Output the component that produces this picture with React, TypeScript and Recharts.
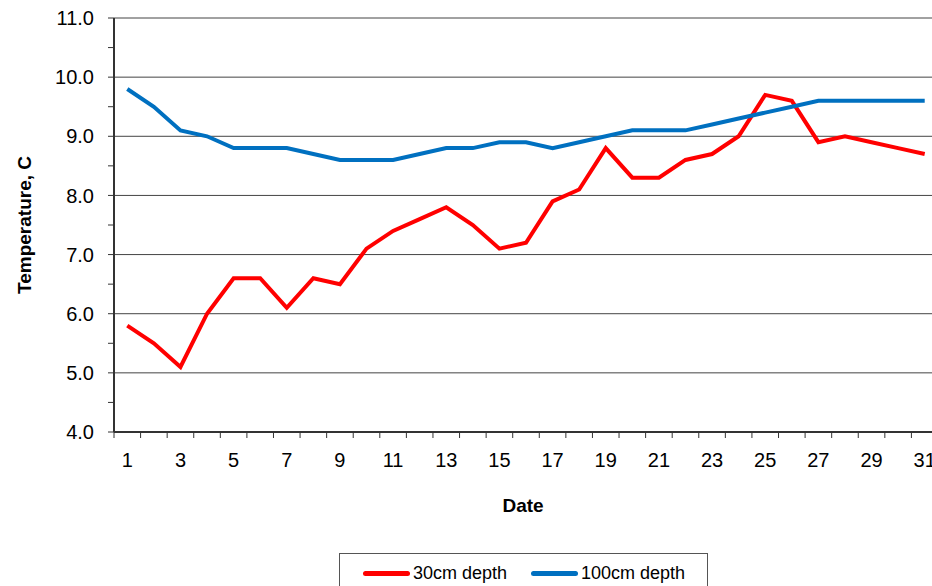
import React from 'react';
import { LineChart, Line, XAxis, YAxis, CartesianGrid, Legend } from 'recharts';

const days = [
  1, 2, 3, 4, 5, 6, 7, 8, 9, 10, 11, 12, 13, 14, 15, 16,
  17, 18, 19, 20, 21, 22, 23, 24, 25, 26, 27, 28, 29, 30, 31,
];
const depth30 = [
  5.8, 5.5, 5.1, 6.0, 6.6, 6.6, 6.1, 6.6, 6.5, 7.1, 7.4, 7.6, 7.8, 7.5, 7.1, 7.2,
  7.9, 8.1, 8.8, 8.3, 8.3, 8.6, 8.7, 9.0, 9.7, 9.6, 8.9, 9.0, 8.9, 8.8, 8.7,
];
const depth100 = [
  9.8, 9.5, 9.1, 9.0, 8.8, 8.8, 8.8, 8.7, 8.6, 8.6, 8.6, 8.7, 8.8, 8.8, 8.9, 8.9,
  8.8, 8.9, 9.0, 9.1, 9.1, 9.1, 9.2, 9.3, 9.4, 9.5, 9.6, 9.6, 9.6, 9.6, 9.6,
];
const yTicks = [4, 4.5, 5, 5.5, 6, 6.5, 7, 7.5, 8, 8.5, 9, 9.5, 10, 10.5, 11];
const gridValues = [4, 5, 6, 7, 8, 9, 10, 11];

const series = [
  { key: 'd30', name: '30cm depth', color: '#ff0000' },
  { key: 'd100', name: '100cm depth', color: '#0070c0' },
];

const data = days.map((d, i) => ({ day: d, d30: depth30[i], d100: depth100[i] }));

const FONT = '"Liberation Sans", Arial, sans-serif';

// tick marks sit between categories, labels only on odd days
function DayTick(props: any) {
  const { x, y, payload } = props;
  const half = payload.offset || 0;
  const axisY = y - 21;
  return (
    <g>
      <line x1={x - half} x2={x - half} y1={axisY} y2={axisY + 6} stroke="#333" strokeWidth={1} />
      {payload.value % 2 === 1 && (
        <text x={x} y={y} dy="0.71em" textAnchor="middle" fontSize={20} fill="#000" fontFamily={FONT}>
          {payload.value}
        </text>
      )}
    </g>
  );
}

function LegendBox() {
  return (
    <div
      style={{
        border: '1px solid #555',
        width: 369,
        height: 40,
        boxSizing: 'border-box',
        display: 'flex',
        alignItems: 'center',
        paddingLeft: 23,
        fontFamily: FONT,
        fontSize: 18,
        color: '#000',
      }}
    >
      {series.map((s, i) => (
        <div key={s.key} style={{ display: 'flex', alignItems: 'center', marginRight: i === 0 ? 24 : 0 }}>
          <span style={{ display: 'inline-block', width: 47, height: 5, borderRadius: 3, background: s.color, marginRight: 3 }} />
          <span>{s.name}</span>
        </div>
      ))}
    </div>
  );
}

export default function App() {
  return (
    <div style={{ position: 'absolute', left: 0, top: 0, width: 932, height: 586, background: '#fff', overflow: 'hidden' }}>
      <LineChart width={932} height={586} data={data} margin={{ top: 18, right: -6, left: 0, bottom: 0 }}>
        <CartesianGrid vertical={false} horizontalValues={gridValues} stroke="#444" strokeWidth={1} />
        <XAxis
          dataKey="day"
          scale="band"
          interval={0}
          height={154}
          tickSize={6}
          tickMargin={15}
          tickLine={false}
          tick={<DayTick />}
          axisLine={{ stroke: '#333', strokeWidth: 2 }}
          label={{
            content: ({ viewBox }: any) => (
              <text
                x={523}
                y={viewBox.y + 73}
                dy="0.355em"
                textAnchor="middle"
                fontSize={19}
                fontWeight="bold"
                fontFamily={FONT}
                fill="#000"
              >
                Date
              </text>
            ),
          }}
        />
        <YAxis
          width={114}
          domain={[4, 11]}
          ticks={yTicks}
          interval={0}
          tickSize={6}
          tickMargin={14}
          tickLine={{ stroke: '#333' }}
          axisLine={{ stroke: '#333', strokeWidth: 2 }}
          tick={{ fontSize: 20, fill: '#000', fontFamily: FONT }}
          tickFormatter={(v: number) => (Number.isInteger(v) ? v.toFixed(1) : '')}
          label={{
            content: ({ viewBox }: any) => {
              const cx = viewBox.x + 24;
              const cy = viewBox.y + viewBox.height / 2;
              return (
                <text
                  x={cx}
                  y={cy}
                  dy="0.355em"
                  transform={`rotate(-90, ${cx}, ${cy})`}
                  textAnchor="middle"
                  fontSize={19}
                  fontWeight="bold"
                  fontFamily={FONT}
                  fill="#000"
                >
                  Temperature, C
                </text>
              );
            },
          }}
        />
        <Legend
          layout="horizontal"
          verticalAlign="middle"
          align="center"
          width={369}
          wrapperStyle={{ left: 339, top: 553 }}
          content={<LegendBox />}
        />
        {series.map((s) => (
          <Line
            key={s.key}
            type="linear"
            dataKey={s.key}
            name={s.name}
            stroke={s.color}
            strokeWidth={4}
            dot={false}
            isAnimationActive={false}
          />
        ))}
      </LineChart>
    </div>
  );
}
